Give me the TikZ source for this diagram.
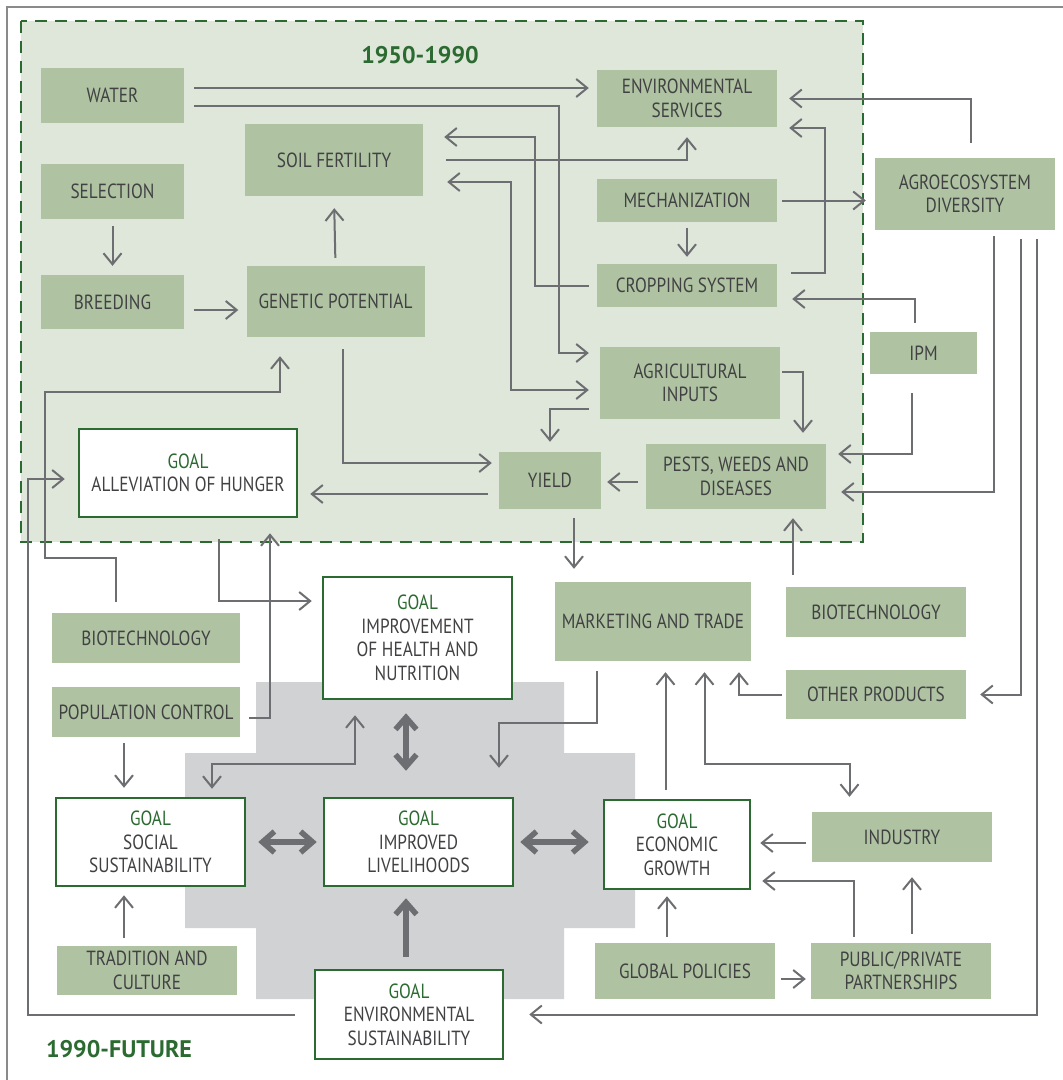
\documentclass[tikz,border=0pt]{standalone}
\usepackage{fontspec}
\setmainfont[FakeStretch=0.84]{PT Sans}
\newfontfamily\erafont{PT Sans}
\usetikzlibrary{arrows.meta}

\definecolor{boxgreen}{HTML}{AFC3A2}
\definecolor{panelgreen}{HTML}{DFE6DA}
\definecolor{goalgreen}{HTML}{2B6A30}
\definecolor{linegray}{HTML}{6D6E71}
\definecolor{crossgray}{HTML}{D1D2D4}
\definecolor{txtgray}{HTML}{414143}
\definecolor{framegray}{HTML}{8A8A8C}

\tikzset{
  box/.style={fill=boxgreen, text=txtgray, align=center, inner sep=0pt},
  goalbox/.style={draw=goalgreen, line width=2.5pt, fill=white, text=txtgray, align=center, inner sep=0pt},
  link/.style={draw=linegray, line width=2pt, >={Straight Barb[length=11pt,width=18pt]}, ->, shorten <=8pt, shorten >=8pt},
  bigarrow/.style={draw=linegray, line width=5.5pt, >={Straight Barb[length=12pt,width=21pt]}, <->},
  era/.style={text=goalgreen, font=\erafont\bfseries\fontsize{24}{27}\selectfont}
}
\newcommand{\goallabel}{\textcolor{goalgreen}{GOAL}\\}

\begin{document}
\begin{tikzpicture}[x=1pt, y=-1pt, every node/.style={font=\fontsize{20.5}{23.5}\selectfont}]
  \useasboundingbox (0,0) rectangle (1063,1080);

  % Frame and background areas
  \draw[framegray, line width=1.5pt] (7,1080) -- (7,7) -- (1063,7);
  \draw[goalgreen, fill=panelgreen, line width=2pt, dash pattern=on 12pt off 8pt] (21,21) rectangle (863,542);
  \fill[crossgray] (256,682) -- (564,682) -- (564,753) -- (635,753) -- (635,928) -- (564,928)
    -- (564,999) -- (256,999) -- (256,928) -- (185,928) -- (185,753) -- (256,753) -- cycle;

  % Era labels
  \node[era] (past) at (420,55) {1950-1990};
  \node[era] (future) at (119,1049) {1990-FUTURE};

  % 1950-1990 boxes
  \node[box, minimum width=143pt, minimum height=55pt] (water) at (112.5,95.5) {WATER};
  \node[box, minimum width=143pt, minimum height=55pt] (selection) at (112.5,191.5) {SELECTION};
  \node[box, minimum width=143pt, minimum height=54pt] (breeding) at (112.5,302) {BREEDING};
  \node[box, minimum width=178pt, minimum height=72pt] (soil) at (334,160) {SOIL FERTILITY};
  \node[box, minimum width=178pt, minimum height=71pt] (genetic) at (335.5,301.5) {GENETIC POTENTIAL};
  \node[box, minimum width=180pt, minimum height=57pt] (envserv) at (687,98.5) {ENVIRONMENTAL\\SERVICES};
  \node[box, minimum width=180pt, minimum height=43pt] (mech) at (687,200.5) {MECHANIZATION};
  \node[box, minimum width=180pt, minimum height=43pt] (crop) at (687,285.5) {CROPPING SYSTEM};
  \node[box, minimum width=180pt, minimum height=72pt] (agri) at (690,383) {AGRICULTURAL\\INPUTS};
  \node[box, minimum width=180pt, minimum height=65pt] (pests) at (736,476.5) {PESTS, WEEDS AND\\DISEASES};
  \node[box, minimum width=102pt, minimum height=57pt] (yield) at (550,480.5) {YIELD};
  \node[goalbox, minimum width=218pt, minimum height=88pt] (hunger) at (188,473) {\goallabel ALLEVIATION OF HUNGER};

  % boxes on the right
  \node[box, minimum width=180pt, minimum height=72pt] (agro) at (965,194) {AGROECOSYSTEM\\DIVERSITY};
  \node[box, minimum width=107pt, minimum height=42pt] (ipm) at (923.5,353) {IPM};

  % 1990-future boxes
  \node[box, minimum width=188pt, minimum height=50pt] (biotechL) at (146,638) {BIOTECHNOLOGY};
  \node[box, minimum width=188pt, minimum height=50pt] (popctrl) at (146,712) {POPULATION CONTROL};
  \node[box, minimum width=180pt, minimum height=49pt] (tradition) at (147,970.5) {TRADITION AND\\CULTURE};
  \node[goalbox, minimum width=189pt, minimum height=122pt] (health) at (417.5,638) {\goallabel IMPROVEMENT\\OF HEALTH AND\\NUTRITION};
  \node[goalbox, minimum width=189pt, minimum height=88pt] (social) at (150.5,842) {\goallabel SOCIAL\\SUSTAINABILITY};
  \node[goalbox, minimum width=189pt, minimum height=88pt] (liveli) at (418.5,842) {\goallabel IMPROVED\\LIVELIHOODS};
  \node[goalbox, minimum width=188pt, minimum height=89pt] (envsust) at (409,1014.5) {\goallabel ENVIRONMENTAL\\SUSTAINABILITY};
  \node[goalbox, minimum width=146pt, minimum height=89pt] (econ) at (677,844.5) {\goallabel ECONOMIC\\GROWTH};
  \node[box, minimum width=196pt, minimum height=79pt] (market) at (653,621.5) {MARKETING AND TRADE};
  \node[box, minimum width=180pt, minimum height=50pt] (biotechR) at (876,612) {BIOTECHNOLOGY};
  \node[box, minimum width=180pt, minimum height=49pt] (other) at (876,694.5) {OTHER PRODUCTS};
  \node[box, minimum width=180pt, minimum height=50pt] (industry) at (902,837) {INDUSTRY};
  \node[box, minimum width=180pt, minimum height=56pt] (global) at (685,971) {GLOBAL POLICIES};
  \node[box, minimum width=180pt, minimum height=56pt] (ppp) at (901,971) {PUBLIC/PRIVATE\\PARTNERSHIPS};

  % Links inside 1950-1990
  \draw[link, shorten <=10pt] ([yshift=7.5pt]water.east) -- ([yshift=7.5pt]water.east -| envserv.west);
  \draw[link, shorten <=10pt, shorten >=11pt] ([yshift=-10.5pt]water.east) -| ([xshift=-41pt,yshift=30pt]agri.west) -- ([yshift=30pt]agri.west);
  \draw[link, shorten >=21pt] (crop.west) -| ([xshift=112pt,yshift=23pt]soil.east) -- ([yshift=23pt]soil.east);
  \draw[link, shorten <=23pt, shorten >=10pt] (soil.east) -| (envserv.south);
  \draw[link, <->, shorten <=24pt, shorten >=11pt] ([yshift=-22pt]soil.east) -| ([xshift=-89pt,yshift=-7pt]agri.west) -- ([yshift=-7pt]agri.west);
  \draw[link, shorten <=6pt, shorten >=7pt] (mech.south) -- (crop.north);
  \draw[link, shorten <=5pt, shorten >=9pt] (mech.east) -- (mech.east -| agro.west);
  \draw[link, shorten <=14pt, shorten >=12pt] ([yshift=12.5pt]crop.east) -| ([xshift=48pt,yshift=-29.5pt]envserv.east) -- ([yshift=-29.5pt]envserv.east);
  \draw[link, shorten <=15pt, shorten >=12pt] ([xshift=6pt]agro.north) |- (envserv.east);
  \draw[link, shorten <=9pt, shorten >=15pt] ([xshift=-8.5pt]ipm.north) |- ([yshift=-13.5pt]crop.east);
  \draw[link, shorten <=19pt, shorten >=12pt] ([xshift=-11.5pt]ipm.south) |- ([yshift=22.5pt]pests.east);
  \draw[link, shorten <=6pt, shorten >=15pt] ([xshift=29pt]agro.south) |- ([yshift=-15.5pt]pests.east);
  \draw[link, shorten <=9pt, shorten >=14pt] ([xshift=56pt]agro.south) |- (other.east);
  \draw[link, shorten <=9pt, shorten >=25pt] ([xshift=72pt]agro.south) |- (envsust.east);
  \draw[link, shorten <=2pt, shorten >=11pt] ([yshift=11pt]agri.east) -| ([xshift=67pt]pests.north);
  \draw[link, shorten <=11pt, shorten >=10pt] ([yshift=-26pt]agri.west) -| (yield.north);
  \draw[link, shorten >=6pt] ([yshift=-5.5pt]pests.west) -- ([yshift=-5.5pt]pests.west -| yield.east);
  \draw[link, shorten <=9pt, shorten >=13pt] ([xshift=24pt]yield.south) -- ([xshift=24pt]yield.south |- market.north);
  \draw[link, shorten <=11pt, shorten >=12pt] ([yshift=-13.5pt]yield.west) -- ([yshift=-13.5pt]yield.west -| hunger.east);
  \draw[link, shorten <=12pt, shorten >=7pt] ([xshift=7.5pt]genetic.south) |- ([yshift=17.5pt]yield.west);
  \draw[link, shorten <=7pt, shorten >=9pt] (selection.south) -- (breeding.north);
  \draw[link, shorten <=9.5pt] ([yshift=-8pt]breeding.east) -- ([yshift=-8pt]breeding.east -| genetic.west);
  \draw[link, shorten >=12pt] (genetic.north) -- (soil.south);

  % Links reaching into 1990-future
  \draw[link, shorten <=11pt, shorten >=19pt] ([xshift=-30pt]biotechL.north) -- ++(0,-55) -- ++(-71,0) |- ([xshift=-55.5pt,yshift=-55pt]genetic.south) -- ([xshift=-55.5pt]genetic.south);
  \draw[link, shorten <=19pt, shorten >=13pt] (envsust.west) -| ([xshift=-50pt,yshift=-6pt]hunger.west) -- ([yshift=-6pt]hunger.west);
  \draw[link, shorten <=9pt, shorten >=15pt] ([yshift=-6pt]popctrl.east) -| ([xshift=82pt]hunger.south);
  \draw[link, shorten <=21pt, shorten >=10pt] ([xshift=31pt]hunger.south) |- ([yshift=37pt]health.west);
  \draw[link, shorten <=6pt, shorten >=9pt] ([xshift=-22pt]popctrl.south) -- ([xshift=-22pt]popctrl.south |- social.north);
  \draw[link] ([xshift=-23pt]tradition.north) -- ([xshift=-23pt]tradition.north |- social.south);
  \draw[link, <->, shorten >=15pt] ([xshift=61.5pt]social.north) |- ([xshift=-62.5pt,yshift=-64pt]health.south) -- ([xshift=-62.5pt]health.south);
  \draw[link, shorten <=10pt, shorten >=29pt] ([xshift=-56pt]market.south) |- ([xshift=80.5pt,yshift=74pt]liveli.north) -- ([xshift=80.5pt]liveli.north);
  \draw[link, shorten <=9pt, shorten >=11pt] ([xshift=-11.5pt]econ.north) -- ([xshift=-11.5pt]econ.north |- market.south);
  \draw[link, <->, shorten <=11pt, shorten >=15pt] ([xshift=51.5pt]market.south) |- ([xshift=-52.5pt,yshift=48pt]industry.north) -- ([xshift=-52.5pt]industry.north);
  \draw[link, shorten <=4pt, shorten >=11pt] (other.west) -| ([xshift=86pt]market.south);
  \draw[link, shorten <=12pt, shorten >=9pt] ([xshift=-83pt]biotechR.north) -- ([xshift=-83pt]biotechR.north |- pests.south);
  \draw[link, shorten <=6pt, shorten >=9pt] ([yshift=-6pt]industry.west) -- ([yshift=-6pt]industry.west -| econ.east);
  \draw[link, shorten <=6pt, shorten >=11pt] ([xshift=-47.5pt]ppp.north) |- ([yshift=-36.5pt]econ.east);
  \draw[link, shorten <=9pt, shorten >=15pt] ([xshift=11pt]ppp.north) -- ([xshift=11pt]ppp.north |- industry.south);
  \draw[link, shorten <=6pt, shorten >=5pt] ([yshift=-8pt]global.east) -- ([yshift=-8pt]global.east -| ppp.west);
  \draw[link, shorten <=6pt, shorten >=6pt] ([xshift=-18pt]global.north) -- ([xshift=-18pt]global.north |- econ.south);

  % Thick arrows between goals
  \draw[bigarrow, shorten <=13pt, shorten >=26pt] ([xshift=-11.5pt]health.south) -- ([xshift=-11.5pt]health.south |- liveli.north);
  \draw[bigarrow, shorten <=12pt, shorten >=6pt] (social.east) -- (liveli.west);
  \draw[bigarrow, shorten <=6pt, shorten >=14pt] (liveli.east) -- (liveli.east -| econ.west);
  \draw[bigarrow, shorten <=12pt, shorten >=11pt, ->] ([xshift=-3pt]envsust.north) -- ([xshift=-3pt]envsust.north |- liveli.south);
\end{tikzpicture}
\end{document}
